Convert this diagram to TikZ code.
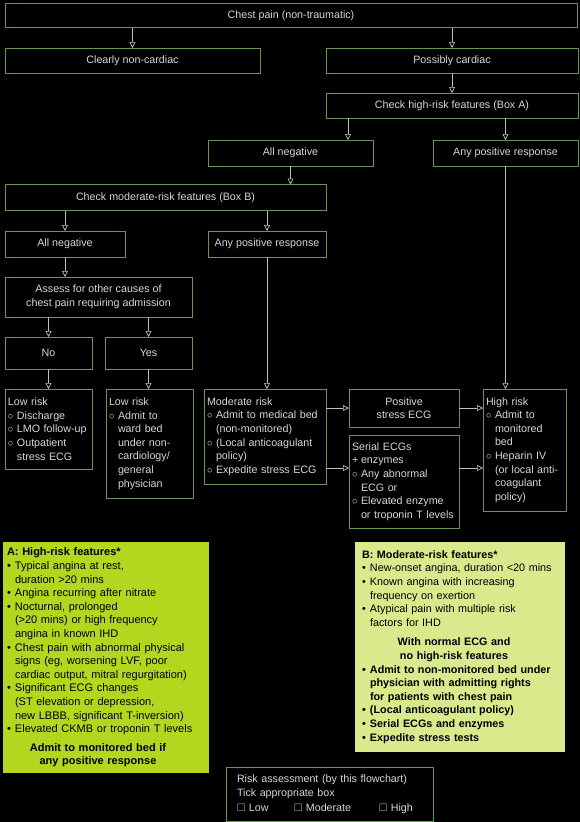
\documentclass[tikz,border=0pt]{standalone}
\usepackage{fontspec}
\usepackage{amssymb}
\setmainfont{Liberation Sans}
\usetikzlibrary{arrows.meta}

\definecolor{bg}{RGB}{0,0,0}
\definecolor{frame}{RGB}{105,150,85}
\definecolor{ink}{RGB}{215,215,215}
\definecolor{wire}{RGB}{190,190,190}
\definecolor{limeA}{RGB}{180,214,30}
\definecolor{limeB}{RGB}{216,234,140}

\def \hangRing {9pt}
\def \hangDot {8pt}
\newcommand\ringmark{\makebox[\hangRing][l]{$\circ$}}
\newcommand\plusmark{\makebox[\hangRing][l]{+}}
\newcommand\ringgap{\hspace*{\hangRing}}
\newcommand\dotmark{\makebox[\hangDot][l]{\textbullet}}
\newcommand\dotgap{\hspace*{\hangDot}}

\tikzset{
  flow/.style={draw=frame, line width=0.8pt, text=ink, inner sep=0pt, outer sep=0pt,
    font=\fontsize{10.7}{13.6}\selectfont},
  flowl/.style={flow, align=left, inner xsep=3pt},
  arr/.style={draw=wire, line width=0.7pt, -{Triangle[open,length=6pt,width=6pt]}},
  note/.style={inner xsep=4pt, inner ysep=0pt, outer sep=0pt, text=black, align=left,
    font=\fontsize{11}{13.6}\selectfont}
}

\begin{document}
\begin{tikzpicture}[x=1pt,y=-1pt]
  \useasboundingbox (0,0) rectangle (580,822);
  \fill[bg] (0,0) rectangle (580,822);

  % flow boxes
  \node[flow, minimum width=572pt, minimum height=24pt] (chest) at (291,15.5) {Chest pain (non-traumatic)};
  \node[flow, minimum width=255pt, minimum height=25pt] (clear) at (132.5,60.5) {Clearly non-cardiac};
  \node[flow, minimum width=252pt, minimum height=25pt] (maybe) at (452,60.5) {Possibly cardiac};
  \node[flow, minimum width=252pt, minimum height=25pt] (checkA) at (452,105.5) {Check high-risk features (Box A)};
  \node[flow, minimum width=165pt, minimum height=26pt] (negA) at (290.5,153) {All negative};
  \node[flow, minimum width=145pt, minimum height=26pt] (posA) at (505.5,153) {Any positive response};
  \node[flow, minimum width=321pt, minimum height=26pt] (checkB) at (165.5,197.5) {Check moderate-risk features (Box B)};
  \node[flow, minimum width=120pt, minimum height=26pt] (negB) at (65,244) {All negative};
  \node[flow, minimum width=118pt, minimum height=26pt] (posB) at (267,244) {Any positive response};
  \node[flow, align=center, minimum width=187pt, minimum height=40pt] (assess) at (98.5,297)
    {Assess for other causes of\\chest pain requiring admission};
  \node[flow, minimum width=87pt, minimum height=32pt] (no) at (48.5,353) {No};
  \node[flow, minimum width=87pt, minimum height=32pt] (yes) at (148.5,353) {Yes};

  \node[flowl, text width=81pt, minimum height=80pt] (low1) at (48.5,429)
    {Low risk\\ \ringmark Discharge\\ \ringmark LMO follow-up\\ \ringmark Outpatient\\ \ringgap stress ECG};
  \node[flowl, text width=81pt, minimum height=109pt] (low2) at (149.5,443.5)
    {Low risk\\ \ringmark Admit to\\ \ringgap ward bed\\ \ringgap under non-\\ \ringgap cardiology/\\ \ringgap general\\ \ringgap physician};
  \node[flowl, text width=116pt, minimum height=95pt] (modr) at (265,436.5)
    {Moderate risk\\ \ringmark Admit to medical bed\\ \ringgap (non-monitored)\\ \ringmark (Local anticoagulant\\ \ringgap policy)\\ \ringmark Expedite stress ECG};
  \node[flow, align=center, minimum width=110pt, minimum height=38pt] (posE) at (404,408)
    {Positive\\stress ECG};
  \node[flowl, text width=104pt, minimum height=93pt] (serial) at (404,481.5)
    {Serial ECGs\\ \plusmark enzymes\\ \ringmark Any abnormal\\ \ringgap ECG or\\ \ringmark Elevated enzyme\\ \ringgap or troponin T levels};
  \node[flowl, text width=77pt, minimum height=122pt] (high) at (524.5,450)
    {High risk\\ \ringmark Admit to\\ \ringgap monitored\\ \ringgap bed\\ \ringmark Heparin IV\\ \ringgap (or local anti-\\ \ringgap coagulant\\ \ringgap policy)};

  % feature boxes
  \node[note, fill=limeA, text width=198pt, minimum height=231pt] (boxA) at (106,657.5)
    {\textbf{A: High-risk features*}\\
     \dotmark Typical angina at rest,\\
     \dotgap duration >20 mins\\
     \dotmark Angina recurring after nitrate\\
     \dotmark Nocturnal, prolonged\\
     \dotgap (>20 mins) or high frequency\\
     \dotgap angina in known IHD\\
     \dotmark Chest pain with abnormal physical\\
     \dotgap signs (eg, worsening LVF, poor\\
     \dotgap cardiac output, mitral regurgitation)\\
     \dotmark Significant ECG changes\\
     \dotgap (ST elevation or depression,\\
     \dotgap new LBBB, significant T-inversion)\\
     \dotmark Elevated CKMB or troponin T levels\\[5pt]
     \makebox[182pt]{\bfseries Admit to monitored bed if}\\
     \makebox[182pt]{\bfseries any positive response}};
  \node[note, fill=limeB, inner xsep=7pt, text width=196pt, minimum height=210pt,
        font=\fontsize{10.8}{13.6}\selectfont] (boxB) at (460,647)
    {\textbf{B: Moderate-risk features*}\\
     \dotmark New-onset angina, duration <20 mins\\
     \dotmark Known angina with increasing\\
     \dotgap frequency on exertion\\
     \dotmark Atypical pain with multiple risk\\
     \dotgap factors for IHD\\[6pt]
     \makebox[184pt]{\bfseries With normal ECG and}\\
     \makebox[184pt]{\bfseries no high-risk features}\\
     \bfseries \dotmark Admit to non-monitored bed under\\
     \bfseries \dotgap physician with admitting rights\\
     \bfseries \dotgap for patients with chest pain\\
     \bfseries \dotmark (Local anticoagulant policy)\\
     \bfseries \dotmark Serial ECGs and enzymes\\
     \bfseries \dotmark Expedite stress tests};

  \node[flowl, inner xsep=11pt, text width=185pt, minimum height=54pt,
        font=\fontsize{10.7}{14.5}\selectfont] (risk) at (329.5,794)
    {Risk assessment (by this flowchart)\\
     Tick appropriate box\\
     \makebox[57pt][l]{$\square$ Low}\makebox[85pt][l]{$\square$ Moderate}$\square$ High};

  % connectors
  \coordinate (r1) at (0,408);
  \coordinate (r2) at (0,468);
  \draw[arr] (clear.north |- chest.south) -- (clear.north);
  \draw[arr] (maybe.north |- chest.south) -- (maybe.north);
  \draw[arr] (maybe.south) -- (checkA.north);
  \draw[arr] ([xshift=-104pt]checkA.south) -- ([xshift=-104pt]checkA.south |- negA.north);
  \draw[arr] (posA.north |- checkA.south) -- (posA.north);
  \draw[arr] (negA.south) -- (negA.south |- checkB.north);
  \draw[arr] (negB.north |- checkB.south) -- (negB.north);
  \draw[arr] (posB.north |- checkB.south) -- (posB.north);
  \draw[arr] (negB.south) -- (negB.south |- assess.north);
  \draw[arr] (no.north |- assess.south) -- (no.north);
  \draw[arr] (yes.north |- assess.south) -- (yes.north);
  \draw[arr] (no.south) -- (no.south |- low1.north);
  \draw[arr] (yes.south) -- (yes.south |- low2.north);
  \draw[arr] (posB.south) -- (posB.south |- modr.north);
  \draw[arr] (posA.south) -- (posA.south |- high.north);
  \draw[arr] (modr.east |- r1) -- (posE.west |- r1);
  \draw[arr] (modr.east |- r2) -- (serial.west |- r2);
  \draw[arr] (posE.east |- r1) -- (high.west |- r1);
  \draw[arr] (serial.east |- r2) -- (high.west |- r2);
\end{tikzpicture}
\end{document}
